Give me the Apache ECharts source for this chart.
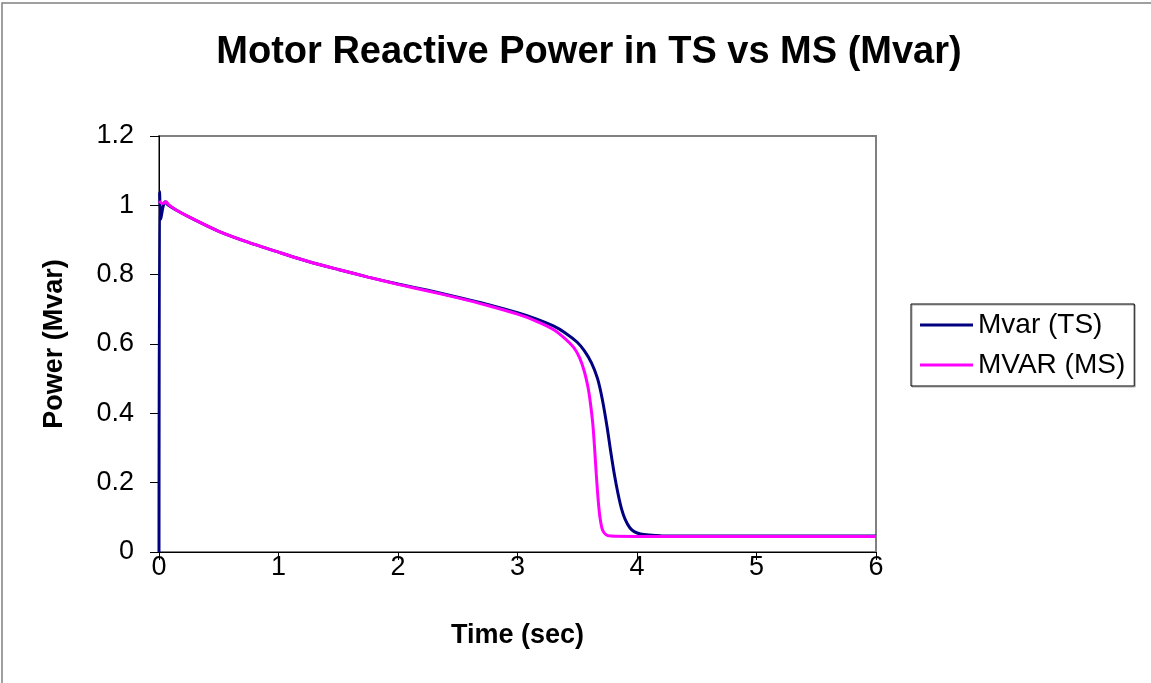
<!DOCTYPE html>
<html>
<head>
<meta charset="utf-8">
<script src="https://cdn.jsdelivr.net/npm/echarts@6/dist/echarts.min.js"></script>
<style>
html,body{margin:0;padding:0;background:#fff;}
#chart{width:1151px;height:683px;}
</style>
</head>
<body>
<div id="chart"></div>
<script>
var titleText = 'Motor Reactive Power in TS vs MS (Mvar)';
var xAxisName = 'Time (sec)';
var yAxisName = 'Power (Mvar)';
var seriesNames = ['Mvar (TS)', 'MVAR (MS)'];

var tsTime = [0, 0.005, 0.015, 0.03, 0.05, 0.08, 0.15, 0.3, 0.5, 0.75, 1.0, 1.25, 1.5, 1.75, 2.0, 2.25, 2.5, 2.75, 3.0, 3.15, 3.3, 3.4, 3.5, 3.56, 3.62, 3.67, 3.71, 3.75, 3.78, 3.81, 3.84, 3.87, 3.9, 3.94, 3.98, 4.03, 4.1, 4.2, 4.5, 5.0, 5.5, 6.0];
var tsMvar = [0, 1.04, 0.96, 0.99, 1.01, 1.0, 0.985, 0.958, 0.925, 0.893, 0.865, 0.838, 0.815, 0.793, 0.773, 0.755, 0.735, 0.714, 0.69, 0.673, 0.652, 0.632, 0.605, 0.58, 0.545, 0.50, 0.44, 0.36, 0.29, 0.225, 0.17, 0.125, 0.095, 0.07, 0.058, 0.052, 0.049, 0.047, 0.046, 0.046, 0.046, 0.046];

var msTime = [0, 0.03, 0.06, 0.08, 0.15, 0.3, 0.5, 0.75, 1.0, 1.25, 1.5, 1.75, 2.0, 2.25, 2.5, 2.75, 3.0, 3.15, 3.3, 3.4, 3.47, 3.52, 3.56, 3.59, 3.61, 3.63, 3.645, 3.66, 3.675, 3.69, 3.71, 3.74, 3.78, 4.0, 5.0, 6.0];
var msMvar = [1.012, 1.005, 1.01, 1.002, 0.985, 0.958, 0.925, 0.893, 0.865, 0.838, 0.815, 0.793, 0.772, 0.753, 0.733, 0.711, 0.686, 0.667, 0.642, 0.615, 0.59, 0.56, 0.52, 0.475, 0.43, 0.37, 0.30, 0.22, 0.15, 0.10, 0.065, 0.05, 0.046, 0.045, 0.045, 0.045];

var yTickLabels = ['0', '0.2', '0.4', '0.6', '0.8', '1', '1.2'];

function pairs(xs, ys) {
  var out = [];
  for (var i = 0; i < xs.length; i++) out.push([xs[i], ys[i]]);
  return out;
}

var chart = echarts.init(document.getElementById('chart'), null, {renderer: 'canvas'});
var font = 'Arial, "Liberation Sans", sans-serif';
chart.setOption({
  animation: false,
  backgroundColor: '#fff',
  graphic: [{
    type: 'rect',
    shape: {x: 2, y: 3, width: 1170, height: 700},
    style: {fill: 'none', stroke: '#808080', lineWidth: 1.5},
    silent: true
  }],
  title: {
    text: titleText,
    left: 584, top: 29, textAlign: 'center',
    textStyle: {fontFamily: font, fontSize: 38, fontWeight: 'bold', color: '#000'}
  },
  legend: {
    orient: 'vertical',
    left: 911, top: 304,
    padding: [7, 9, 7, 9],
    itemGap: 12,
    itemWidth: 53,
    itemHeight: 3,
    icon: 'rect',
    borderColor: '#000',
    borderWidth: 1,
    shadowColor: 'rgba(0,0,0,0.35)',
    shadowOffsetX: 1, shadowOffsetY: 1,
    textStyle: {fontFamily: font, fontSize: 28, color: '#000', lineHeight: 28},
    data: seriesNames
  },
  grid: {
    left: 159, top: 136, right: 275, bottom: 131,
    show: true, borderColor: '#808080', borderWidth: 2, backgroundColor: '#fff'
  },
  xAxis: {
    type: 'value', min: 0, max: 6, interval: 1,
    name: xAxisName, nameLocation: 'middle', nameGap: 70,
    nameTextStyle: {fontFamily: font, fontSize: 27, fontWeight: 'bold', color: '#000'},
    axisLine: {show: true, onZero: false, lineStyle: {color: '#000', width: 1}},
    axisTick: {show: true, inside: false, length: 8, lineStyle: {color: '#000'}},
    axisLabel: {fontFamily: font, fontSize: 27, color: '#000', margin: 2},
    splitLine: {show: false}
  },
  yAxis: {
    type: 'value', min: 0, max: 1.2, interval: 0.2,
    name: yAxisName, nameLocation: 'middle', nameGap: 91, nameRotate: 90,
    nameTextStyle: {fontFamily: font, fontSize: 27, fontWeight: 'bold', color: '#000'},
    axisLine: {show: true, onZero: false, lineStyle: {color: '#000', width: 1}},
    axisTick: {show: true, inside: false, length: 9, lineStyle: {color: '#000'}},
    axisLabel: {
      fontFamily: font, fontSize: 27, color: '#000', margin: 25,
      formatter: function (v) { return yTickLabels[Math.round(v / 0.2)]; }
    },
    splitLine: {show: false}
  },
  series: [{
    name: seriesNames[0], type: 'line', data: pairs(tsTime, tsMvar),
    symbol: 'none', smooth: 0.25,
    lineStyle: {color: '#000080', width: 3}, itemStyle: {color: '#000080'}
  }, {
    name: seriesNames[1], type: 'line', data: pairs(msTime, msMvar),
    symbol: 'none', smooth: 0.25,
    lineStyle: {color: '#FF00FF', width: 3}, itemStyle: {color: '#FF00FF'}
  }]
});
</script>
</body>
</html>
